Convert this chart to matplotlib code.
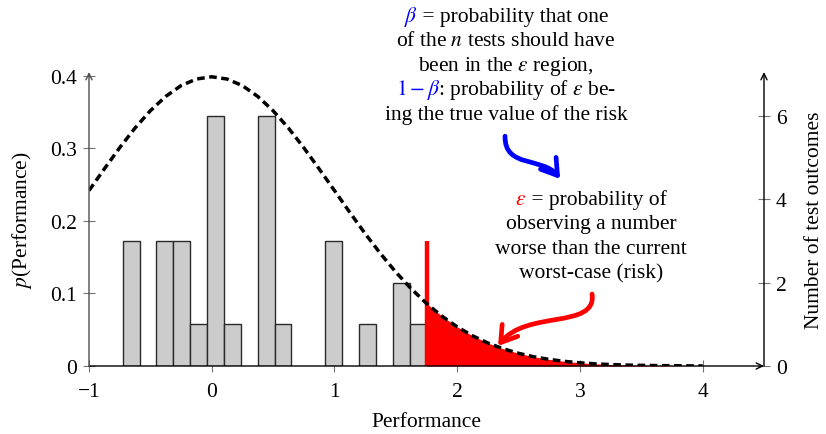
import numpy as np
import matplotlib
matplotlib.use("Agg")
import matplotlib.pyplot as plt
from matplotlib.path import Path
from matplotlib.patches import FancyArrowPatch
from matplotlib.transforms import IdentityTransform

plt.rcParams["font.family"] = ["Liberation Serif", "DejaVu Serif"]
plt.rcParams["mathtext.fontset"] = "stix"

# --- data ---
bin_edges = [-0.726, -0.588, -0.451, -0.313, -0.176, -0.038, 0.099, 0.237, 0.374,
             0.512, 0.649, 0.787, 0.924, 1.062, 1.199, 1.337, 1.474, 1.612, 1.75]
counts = [3, 0, 3, 3, 1, 6, 1, 0, 6, 1, 0, 0, 3, 0, 1, 0, 2, 1]

# density curve p(Performance), sampled every 0.125 from -1 to 4
perf_x = [-1.0, -0.875, -0.75, -0.625, -0.5, -0.375, -0.25, -0.125, 0.0,
          0.125, 0.25, 0.375, 0.5, 0.625, 0.75, 0.875, 1.0, 1.125, 1.25, 1.375,
          1.5, 1.625, 1.75, 1.875, 2.0, 2.125, 2.25, 2.375, 2.5, 2.625, 2.75,
          2.875, 3.0, 3.125, 3.25, 3.375, 3.5, 3.625, 3.75, 3.875, 4.0]
perf_p = [0.2420, 0.2719, 0.3011, 0.3282, 0.3521, 0.3718, 0.3867, 0.3958, 0.3989,
          0.3958, 0.3867, 0.3718, 0.3521, 0.3282, 0.3011, 0.2719, 0.2420, 0.2119,
          0.1826, 0.1550, 0.1295, 0.1066, 0.0863, 0.0688, 0.0540, 0.0417, 0.0317,
          0.0238, 0.0175, 0.0127, 0.0091, 0.0064, 0.0044, 0.0030, 0.0020, 0.0013,
          0.0009, 0.0006, 0.0004, 0.0002, 0.0001]

worst_case = 1.75       # current worst-case test outcome
worst_case_marker = 3   # height of the red marker (in counts)

x_ticks = [-1, 0, 1, 2, 3, 4]
x_labels = ["\u22121", "0", "1", "2", "3", "4"]
p_ticks = [0, 0.1, 0.2, 0.3, 0.4]
p_labels = ["0", "0.1", "0.2", "0.3", "0.4"]
n_ticks = [0, 2, 4, 6]

P_TOP = 0.4055
COUNT_TO_P = 0.0575     # one test outcome in density units

FS = 15.5

fig = plt.figure(figsize=(8.26, 4.35), dpi=100)
ax = fig.add_axes([89 / 826, 68 / 435, 675 / 826, 294 / 435])
ax2 = ax.twinx()

# --- histogram of test outcomes (right axis) ---
edges = np.array(bin_edges)
cnt = np.array(counts)
keep = cnt > 0
ax.bar(edges[:-1][keep], cnt[keep], width=np.diff(edges)[keep], align="edge",
       color="#cccccc", edgecolor="#2a2a2a", lw=1.0, zorder=2)
ax.vlines(worst_case, 0, worst_case_marker, color="red", lw=3.2, zorder=5)
ax.set_xlim(-1, 4.5)
ax.set_ylim(0, P_TOP / COUNT_TO_P)
ax.yaxis.tick_right()
ax.yaxis.set_label_position("right")
ax.set_yticks(n_ticks)
ax.set_yticklabels([str(t) for t in n_ticks])
ax.set_xticks(x_ticks)
ax.set_xticklabels(x_labels)
ax.set_xlabel("Performance", fontsize=FS, labelpad=8)
ax.set_ylabel("Number of test outcomes", fontsize=FS, labelpad=13)

# --- density curve (left axis) ---
px = np.array(perf_x)
pp = np.array(perf_p)
tail = px >= worst_case
ax2.fill_between(px[tail], 0, pp[tail], color="red", lw=0, zorder=3)
ax2.plot(px, pp, color="black", lw=2.5, dashes=(2.2, 1.3), zorder=4)
ax2.set_ylim(0, P_TOP)
ax2.yaxis.tick_left()
ax2.yaxis.set_label_position("left")
ax2.set_yticks(p_ticks)
ax2.set_yticklabels(p_labels)
ax2.set_ylabel("$p$(Performance)", fontsize=FS, labelpad=12)

for a in (ax, ax2):
    for s in a.spines.values():
        s.set_visible(False)
    a.tick_params(labelsize=FS, direction="inout", length=9, width=0.8,
                  color="0.45", pad=4)
ax.tick_params(axis="x", pad=7)

# axis lines with arrow heads
arr = dict(arrowstyle="->,head_length=0.45,head_width=0.22", shrinkA=0, shrinkB=0)
ax2.annotate("", xy=(1, 0), xytext=(0, 0), xycoords="axes fraction",
             arrowprops=dict(color="black", lw=1.0, **arr), zorder=6)
ax2.annotate("", xy=(0, 1), xytext=(0, 0), xycoords="axes fraction",
             arrowprops=dict(color="0.3", lw=1.0, **arr), zorder=6)
ax2.annotate("", xy=(1, 1), xytext=(1, 0), xycoords="axes fraction",
             arrowprops=dict(color="black", lw=1.0, **arr), zorder=6)

# --- curly arrows ---
blue_path = Path([(2.390, 0.317), (2.385, 0.272), (2.700, 0.289), (2.839, 0.258)],
                 [Path.MOVETO, Path.CURVE4, Path.CURVE4, Path.CURVE4])
ax2.add_patch(FancyArrowPatch(path=blue_path, transform=ax2.transData,
                              arrowstyle="->,head_length=0.5,head_width=0.32",
                              mutation_scale=22, color="blue", lw=3.4, zorder=7))
red_path = Path([(3.099, 0.0993), (3.140, 0.050), (2.560, 0.078), (2.333, 0.0276)],
                [Path.MOVETO, Path.CURVE4, Path.CURVE4, Path.CURVE4])
ax2.add_patch(FancyArrowPatch(path=red_path, transform=ax2.transData,
                              arrowstyle="->,head_length=0.5,head_width=0.32",
                              mutation_scale=22, color="red", lw=3.4, zorder=7))

# --- text annotations (pixel positions, colored heads) ---
renderer = fig.canvas.get_renderer()
H = 435


def put_line(xc, y_top, head, head_color, rest):
    tr = IdentityTransform()
    full = fig.text(0, 0, head + rest, fontsize=FS, transform=tr)
    w = full.get_window_extent(renderer).width
    full.remove()
    left = xc - w / 2
    y = H - y_top
    if head:
        fig.text(left, y, head, color=head_color, fontsize=FS, ha="left",
                 va="baseline", transform=tr)
    fig.text(left + w, y, rest, color="black", fontsize=FS, ha="right",
             va="baseline", transform=tr)


put_line(506, 22, r"$\beta$", "blue", " = probability that one")
put_line(506, 46.5, "", "black", "of the $n$ tests should have")
put_line(506, 71, "", "black", r"been in the $\varepsilon$ region,")
put_line(506, 95.5, r"$1-\beta$", "blue", r": probability of $\varepsilon$ be-")
put_line(506, 120, "", "black", "ing the true value of the risk")

put_line(591, 205, r"$\varepsilon$", "red", " = probability of")
put_line(591, 229.5, "", "black", "observing a number")
put_line(591, 254, "", "black", "worse than the current")
put_line(591, 278.5, "", "black", "worst-case (risk)")

fig.savefig("out.png", dpi=100)
